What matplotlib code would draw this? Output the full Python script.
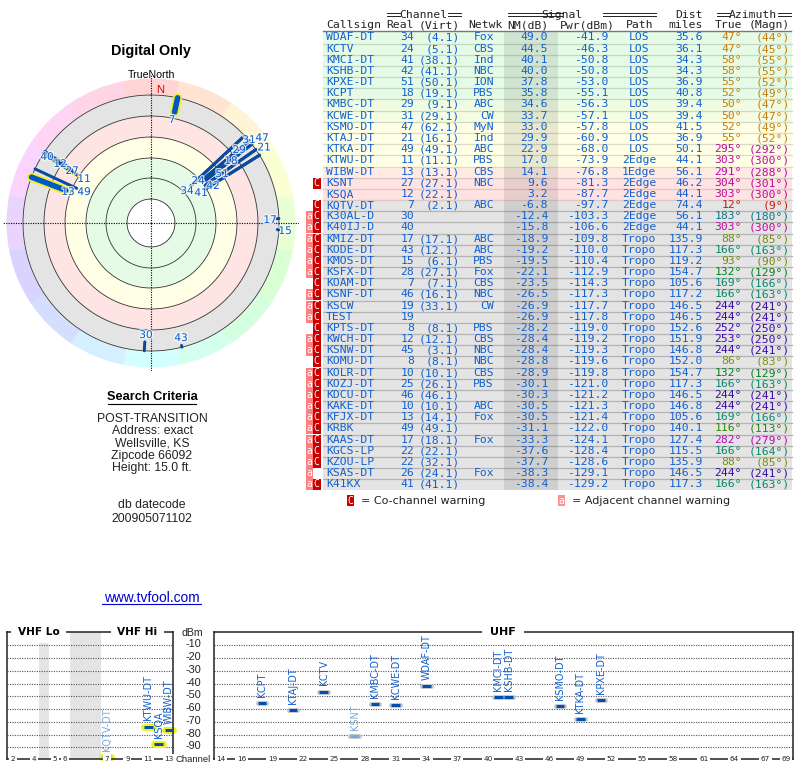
import colorsys
import numpy as np
import matplotlib
matplotlib.use("Agg")
import matplotlib.pyplot as plt
import matplotlib.patheffects as pe
from matplotlib.patches import Rectangle

W, H = 800, 768
PT = 0.72  # points per pixel at dpi 100

# ---------- data ----------
callsigns = ["WDAF-DT","KCTV","KMCI-DT","KSHB-DT","KPXE-DT","KCPT","KMBC-DT","KCWE-DT","KSMO-DT","KTAJ-DT",
             "KTKA-DT","KTWU-DT","WIBW-DT","KSNT","KSQA","KQTV-DT","K30AL-D","K40IJ-D","KMIZ-DT","KODE-DT",
             "KMOS-DT","KSFX-DT","KOAM-DT","KSNF-DT","KSCW","TEST","KPTS-DT","KWCH-DT","KSNW-DT","KOMU-DT",
             "KOLR-DT","KOZJ-DT","KDCU-DT","KAKE-DT","KFJX-DT","KRBK","KAAS-DT","KGCS-LP","KZOU-LP","KSAS-DT","K41KX"]
real_ch = [34,24,41,42,51,18,29,31,47,21,49,11,13,27,12,7,30,40,17,43,15,28,7,46,19,19,8,12,45,8,10,25,46,10,13,49,17,22,22,26,41]
virt_ch = ["(4.1)","(5.1)","(38.1)","(41.1)","(50.1)","(19.1)","(9.1)","(29.1)","(62.1)","(16.1)","(49.1)","(11.1)",
           "(13.1)","(27.1)","(22.1)","(2.1)","","","(17.1)","(12.1)","(6.1)","(27.1)","(7.1)","(16.1)","(33.1)","",
           "(8.1)","(12.1)","(3.1)","(8.1)","(10.1)","(26.1)","(46.1)","(10.1)","(14.1)","(49.1)","(18.1)","(22.1)",
           "(32.1)","(24.1)","(41.1)"]
networks = ["Fox","CBS","Ind","NBC","ION","PBS","ABC","CW","MyN","Ind","ABC","PBS","CBS","NBC","","ABC","","","ABC","ABC",
            "PBS","Fox","CBS","NBC","CW","","PBS","CBS","NBC","NBC","CBS","PBS","","ABC","Fox","","Fox","","","Fox",""]
nm_db = [49.0,44.5,40.1,40.0,37.8,35.8,34.6,33.7,33.0,29.9,22.9,17.0,14.1,9.6,3.2,-6.8,-12.4,-15.8,-18.9,-19.2,-19.5,
         -22.1,-23.5,-26.5,-26.9,-26.9,-28.2,-28.4,-28.4,-28.8,-28.9,-30.1,-30.3,-30.5,-30.5,-31.1,-33.3,-37.6,-37.7,-38.3,-38.4]
pwr_dbm = [-41.9,-46.3,-50.8,-50.8,-53.0,-55.1,-56.3,-57.1,-57.8,-60.9,-68.0,-73.9,-76.8,-81.3,-87.7,-97.7,-103.3,-106.6,
           -109.8,-110.0,-110.4,-112.9,-114.3,-117.3,-117.7,-117.8,-119.0,-119.2,-119.3,-119.6,-119.8,-121.0,-121.2,-121.3,
           -121.4,-122.0,-124.1,-128.4,-128.6,-129.1,-129.2]
paths = ["LOS"]*11 + ["2Edge","1Edge","2Edge","2Edge","2Edge","2Edge","2Edge"] + ["Tropo"]*23
dist_mi = [35.6,36.1,34.3,34.3,36.9,40.8,39.4,39.4,41.5,36.9,50.1,44.1,56.1,46.2,44.1,74.4,56.1,44.1,135.9,117.3,119.2,
           154.7,105.6,117.2,146.5,146.5,152.6,151.9,146.8,152.0,154.7,117.3,146.5,146.8,105.6,140.1,127.4,115.5,135.9,146.5,117.3]
az_true = [47,47,58,58,55,52,50,50,52,55,295,303,291,304,303,12,183,303,88,166,93,132,169,166,244,244,252,253,244,86,
           132,166,244,244,169,116,282,166,88,244,166]
az_magn = [44,45,55,55,52,49,47,47,49,52,292,300,288,301,300,9,180,300,85,163,90,129,166,163,241,241,250,250,241,83,
           129,163,241,241,166,113,279,164,85,241,163]
warn_flags = [""]*13 + ["C","","C","aC","aC","aC","aC","aC","aC","C","aC","aC","aC","C","aC","aC","C",
                        "aC","aC","aC","aC","aC","aC","aC","aC","aC","a","aC"]
row_fill = ["#e6fbe6"]*6 + ["#effce2","#f4fce2"] + ["#ffffe6"]*4 + ["#ffebe2","#ffe2e2","#ffe2e2"] + ["#e4e4e4"]*26
row_line = ["#c4d8c4"]*6 + ["#d0d8c0"]*2 + ["#dcdcc4"]*4 + ["#dcc8c4"]*3 + ["#b4b4b4"]*26

plot_calls = {"highlight": ["KTWU-DT","WIBW-DT","KSQA","KQTV-DT"], "pale": ["KSNT","KQTV-DT"], "thick": ["WIBW-DT","KQTV-DT"]}
vhf_chart = ["KQTV-DT","KTWU-DT","KSQA","WIBW-DT"]
uhf_chart = ["KCPT","KTAJ-DT","KCTV","KSNT","KMBC-DT","KCWE-DT","WDAF-DT","KMCI-DT","KSHB-DT","KSMO-DT","KTKA-DT","KPXE-DT"]
vhf_ticks = [2,4,5,6,7,9,11,13]
vhf_tick_pos = [0,2,4,5,9,11,13,15]
vhf_gaps = [(2.5,3.5),(5.5,8.5)]
uhf_ticks = [14,16,19,22,25,28,31,34,37,40,43,46,49,52,55,58,61,64,67,69]
dbm_levels = [-10,-20,-30,-40,-50,-60,-70,-80,-90]

polar_labels = {"WDAF-DT":(187,191),"KCTV":(198,181),"KMCI-DT":(201,193),"KSHB-DT":(213,186),"KPXE-DT":(222,174),
                "KCPT":(231,161),"KMBC-DT":(239,150),"KSMO-DT":(262,138),"KCWE-DT":(249,140),"KTAJ-DT":(264,147.5),
                "KTKA-DT":(84,192),"KTWU-DT":(84,179),"WIBW-DT":(68,192),"KSNT":(72,171),"KSQA":(60,164),
                "KQTV-DT":(172,120),"K30AL-D":(146,335),"K40IJ-D":(47,157),"KMIZ-DT":(270,220),"KODE-DT":(181,338),
                "KMOS-DT":(285,231)}

row_y = [37.4,49.4,60.4,71.4,82.4,93.4,104.4,116.4,127.4,138.4,149.4,160.4,172.4,183.4,194.4,205.4,216.4,227.4,239.4,250.4,
         261.3,272.3,283.3,294.3,306.3,317.3,328.3,339.3,350.3,361.3,373.3,384.3,395.3,406.3,417.3,428.3,440.3,451.3,462.3,473.3,484.3]

# ---------- figure ----------
fig = plt.figure(figsize=(W/100, H/100), dpi=100, facecolor="white")

def axpx(l, t, r, b, **kw):
    return fig.add_axes([l/W, 1-b/H, (r-l)/W, (b-t)/H], **kw)

bg = axpx(0, 0, W, H)
bg.set_xlim(0, W); bg.set_ylim(H, 0); bg.axis("off")

MONO = "DejaVu Sans Mono"
ARIAL = "Liberation Sans"
BLUE = "#1060d0"
fs_mono = 11.4*PT

def mono(x, y, s, ha="left", color=BLUE):
    bg.text(x, y, s, family=MONO, fontsize=fs_mono, ha=ha, va="center", color=color)

def az_colour(az):
    hue = np.interp(az, [0,12,47,58,88,93,116,132,166,183,244,253,282,295,304,360],
                    [0,5,36,38,70,72,100,130,165,190,258,260,300,310,312,360])
    val = np.interp(az, [0,58,88,132,183,244,303,360], [0.78,0.78,0.56,0.5,0.55,0.65,0.75,0.78])
    return colorsys.hsv_to_rgb(hue/360, 0.95, val)

# ---------- left text ----------
bg.text(151, 51, "Digital Only", family=ARIAL, fontsize=10.4, weight="bold", ha="center", va="center")
bg.text(151, 74.5, "TrueNorth", family=ARIAL, fontsize=7.6, ha="center", va="center")
bg.text(152, 397, "Search Criteria", family=ARIAL, fontsize=9.2, weight="bold", ha="center", va="center")
bg.plot([108, 196], [403.5, 403.5], color="black", lw=0.8)
for y, s in zip([419.5,431.5,443.5,455.5,467.5,505.5,518.5],
                ["POST-TRANSITION","Address: exact","Wellsville, KS","Zipcode 66092","Height: 15.0 ft.","db datecode","200905071102"]):
    bg.text(152, y, s, family=ARIAL, fontsize=8.8, ha="center", va="center", color="#222222")
bg.text(151.5, 597.5, "www.tvfool.com", family=ARIAL, fontsize=9.9, color="#0000cc", ha="center", va="center")
bg.plot([102, 201], [604, 604], color="#0000cc", lw=0.8)

# ---------- table ----------
mono(326, 25.5, "Callsign", color="#222222")
for x, y, s, ha in [(414,25.5,"Real","right"),(460,25.5,"(Virt)","right"),(485,25.5,"Netwk","center"),(548,25.5,"NM(dB)","right"),
                    (615,25.5,"Pwr(dBm)","right"),(653,25.5,"Path","right"),(703,25.5,"miles","right"),(742,25.5,"True","right"),
                    (790,25.5,"(Magn)","right"),(423,14.5,"Channel","center"),(562,14.5,"Signal","center"),(703,14.5,"Dist","right"),
                    (753,14.5,"Azimuth","center")]:
    mono(x, y, s, ha=ha, color="#222222")
for x0, x1 in [(387,400),(448,461),(508,562),(603,656),(717,730),(778,791)]:
    bg.plot([x0, x1], [13, 13], color="#222222", lw=0.7)
    bg.plot([x0, x1], [15.5, 15.5], color="#222222", lw=0.7)
bg.plot([323, 791], [30.5, 30.5], color="#777777", lw=1)

for i, y in enumerate(row_y):
    bottom = row_y[i+1]-5.5 if i+1 < len(row_y) else y+5.5
    top = y-6 if i == 0 else y-5.5
    bg.add_patch(Rectangle((323, top), 469, bottom-top, fc=row_fill[i], ec="none", zorder=0))
    if i+1 < len(row_y):
        bg.plot([323, 792], [bottom, bottom], color=row_line[i], lw=0.9, zorder=0.5)
bg.add_patch(Rectangle((504, row_y[0]-6), 54, row_y[-1]-row_y[0]+11.5, fc="black", alpha=0.09, ec="none", zorder=0.6))

for i, y in enumerate(row_y):
    mono(326, y, callsigns[i])
    mono(414, y, str(real_ch[i]), ha="right")
    mono(460, y, virt_ch[i], ha="right")
    mono(494, y, networks[i], ha="right")
    mono(548, y, f"{nm_db[i]:.1f}", ha="right")
    mono(608, y, f"{pwr_dbm[i]:.1f}", ha="right")
    mono(639, y, paths[i], ha="center")
    mono(703, y, f"{dist_mi[i]:.1f}", ha="right")
    col = az_colour(az_true[i])
    mono(742, y, f"{az_true[i]}°", ha="right", color=col)
    mono(790, y, f"({az_magn[i]}°)", ha="right", color=col)
    if "C" in warn_flags[i]:
        bg.add_patch(Rectangle((313, y-5.5), 7.5, 11, fc="#c80000", ec="none"))
        bg.text(316.7, y, "C", family=MONO, fontsize=7, color="white", ha="center", va="center")
    if "a" in warn_flags[i]:
        bg.add_patch(Rectangle((306, y-5.5), 7, 11, fc="#ff8080", ec="none"))
        bg.text(309.5, y, "a", family=MONO, fontsize=7, color="white", ha="center", va="center")

bg.add_patch(Rectangle((347, 495), 7, 11, fc="#c80000", ec="none"))
bg.text(350.5, 500.5, "C", family=MONO, fontsize=7, color="white", ha="center", va="center")
bg.text(361, 501, "= Co-channel warning", family="DejaVu Sans", fontsize=8, ha="left", va="center", color="#222222")
bg.add_patch(Rectangle((558, 495), 7, 11, fc="#ff9090", ec="none"))
bg.text(561.5, 500.5, "a", family=MONO, fontsize=7, color="white", ha="center", va="center")
bg.text(572, 501, "= Adjacent channel warning", family="DejaVu Sans", fontsize=8, ha="left", va="center", color="#222222")

# ---------- polar chart ----------
RMAX = 148
pol = axpx(151-RMAX, 223-RMAX, 151+RMAX, 223+RMAX, projection="polar")
pol.set_theta_zero_location("N"); pol.set_theta_direction(-1)
pol.set_rlim(0, RMAX); pol.axis("off"); pol.patch.set_alpha(0)

edges = np.linspace(-11.25, 348.75, 17)
for a0, a1 in zip(edges[:-1], edges[1:]):
    hue = ((a0+a1)/2 % 360)/360
    pol.bar(np.radians((a0+a1)/2), 16, width=np.radians(a1-a0)*1.01, bottom=128.5, color=colorsys.hsv_to_rgb(hue, 0.17, 1.0), lw=0, zorder=1)
th = np.linspace(0, 2*np.pi, 361)
band_r = [24, 63, 67, 84, 88, 105, 109, 128]
band_c = np.array([matplotlib.colors.to_rgb(c) for c in
                   ["#e6fbe6","#e6fbe6","#ffffe6","#ffffe6","#ffe4e4","#ffe4e4","#e4e4e4","#e4e4e4"]])
for r in np.arange(127, 23, -1.0):
    c = [np.interp(r+0.5, band_r, band_c[:, k]) for k in range(3)]
    pol.bar(0, r+1-24, width=2*np.pi, bottom=24, color=c, lw=0, zorder=1)
for r in [24, 45, 65, 86, 107, 128]:
    pol.plot(th, np.full_like(th, r), color="#333333", lw=0.6, zorder=2)
for a in [0, 90, 180, 270]:
    pol.plot(np.radians([a, a]), [0, RMAX], color="black", lw=0.8, ls=(0,(1,1.2)), zorder=2)
pol.text(np.radians(4), 133, "N", family=ARIAL, fontsize=8, color="#dd0000", ha="center", va="center", zorder=3)

def radius(nm):
    return min(128, 106-1.05*nm)

hl = plot_calls["highlight"]
for i, name in enumerate(callsigns):
    if nm_db[i] < -20 or name not in hl:
        continue
    t = np.radians([az_true[i], az_true[i]])
    thick = name in plot_calls["thick"]
    pol.plot(t, [radius(nm_db[i]), 128], color="#f0f020", lw=(9 if thick else 4.5)*PT, solid_capstyle="round", zorder=3)
for i, name in enumerate(callsigns):
    if nm_db[i] < -20:
        continue
    t = np.radians([az_true[i], az_true[i]])
    thick = name in plot_calls["thick"]
    pol.plot(t, [radius(nm_db[i]), 128], color="#0a4a9c" if not thick else "#0058c8", lw=(5.5 if thick else 3)*PT,
             solid_capstyle="round", zorder=4)

halo = [pe.withStroke(linewidth=1.8, foreground="white", alpha=0.75)]
fig_txt = axpx(0, 0, W, H)
fig_txt.set_xlim(0, W); fig_txt.set_ylim(H, 0); fig_txt.axis("off"); fig_txt.patch.set_alpha(0)
for name, (x, y) in polar_labels.items():
    i = callsigns.index(name)
    fig_txt.text(x, y, str(real_ch[i]), family="DejaVu Sans", fontsize=7.6, color=BLUE, ha="center", va="center", path_effects=halo)

# ---------- spectrum ----------
Y0, Y1 = 0.43, -99.2
def frame(ax):
    ax.set_ylim(Y1, Y0)
    ax.set_yticks([]); ax.set_xticks([])
    for s in ax.spines.values():
        s.set_linewidth(1.1); s.set_color("#222222")
    for y in dbm_levels:
        ax.axhline(y, color="#555555", lw=0.8, ls=(0,(1,1.2)), zorder=1)

def bars(ax, names, xf, halfw):
    for name in names:
        i = callsigns.index(name)
        x = xf(real_ch[i]); y = pwr_dbm[i]
        pale = name in plot_calls["pale"]
        halo_col = "#f0f020" if name in hl else "#c8c8c8"
        ax.plot([x-halfw, x+halfw], [y, y], color=halo_col, lw=(7 if name in hl else 5)*PT, solid_capstyle="round", zorder=2, clip_on=False)
        ax.plot([x-halfw, x+halfw], [y, y], color="#80a8e0" if pale else "#0050b4", lw=3*PT, solid_capstyle="butt", zorder=3, clip_on=False)
        ax.annotate(name, (x, y), xytext=(0, 4.5), textcoords="offset points", rotation=90, ha="center", va="bottom",
                    family="DejaVu Sans", fontsize=6.9, color="#80a8e0" if pale else BLUE, zorder=4)

def ticks(ax, xs, labels):
    for x, s in zip(xs, labels):
        ax.text(x, Y1, str(s), family="DejaVu Sans", fontsize=5.2, ha="center", va="center", color="#222222", zorder=5, clip_on=False,
                bbox=dict(fc="white", ec="none", pad=1.2))

vhf = axpx(7, 632, 173, 759)
vhf.set_xlim((7-13)/10.4, (173-13)/10.4)
frame(vhf)
for a, b in vhf_gaps:
    vhf.axvspan(a, b, color="#e4e4e4", lw=0, zorder=0)
vhf_x = lambda c: np.interp(c, vhf_ticks, vhf_tick_pos)
bars(vhf, vhf_chart, vhf_x, 0.42)
ticks(vhf, vhf_tick_pos, vhf_ticks)
for fx, s in [(0.19, "VHF Lo"), (0.785, "VHF Hi")]:
    vhf.text(fx, 1.0, s, transform=vhf.transAxes, family="DejaVu Sans", weight="bold", fontsize=7.6, ha="center", va="center",
             bbox=dict(fc="white", ec="none", pad=4.5), zorder=6, clip_on=False)

uhf = axpx(214, 632, 793, 759)
uhf.set_xlim(14+(214-221)/10.27, 14+(793-221)/10.27)
frame(uhf)
bars(uhf, uhf_chart, lambda c: c, 0.42)
ticks(uhf, uhf_ticks, uhf_ticks)
uhf.text(0.4996, 1.0, "UHF", transform=uhf.transAxes, family="DejaVu Sans", weight="bold", fontsize=8, ha="center", va="center",
         bbox=dict(fc="white", ec="none", pad=6), zorder=6, clip_on=False)

bg.text(192.5, 632.5, "dBm", family=ARIAL, fontsize=7.6, ha="center", va="center", color="#222222")
for lev in dbm_levels:
    bg.text(193.5, 645.3+(-10-lev)*1.275-1, str(lev), family=ARIAL, fontsize=7.8, ha="center", va="center", color="#222222")
bg.text(193, 759, "Channel", family=ARIAL, fontsize=6.8, ha="center", va="center", color="#222222")

fig.savefig("out.png", dpi=100, facecolor="white")
